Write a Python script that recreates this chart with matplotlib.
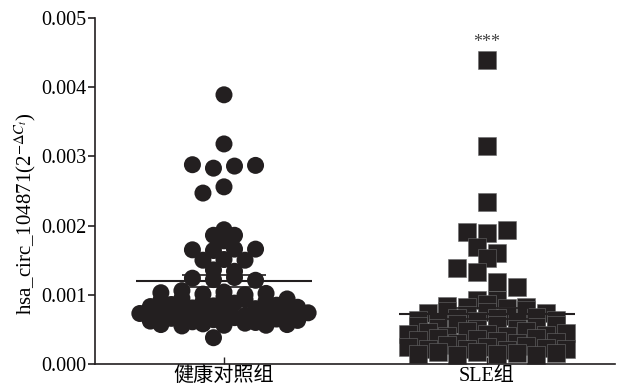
import matplotlib
matplotlib.use('Agg')
import matplotlib.pyplot as plt
from matplotlib.ticker import FormatStrFormatter
import numpy as np
import math

plt.rcParams['font.family'] = ['Liberation Serif', 'Noto Sans CJK SC']
plt.rcParams['mathtext.fontset'] = 'stix'

# Gruppen
gruppen = ['健康对照组', 'SLE组']

# hsa_circ_104871 Expression (2^-dCt), gesunde Kontrollen
gesund = [0.00389, 0.00318,
          0.00288, 0.00283, 0.00286, 0.00287,
          0.00256, 0.00247,
          0.00194, 0.00186, 0.00186, 0.00178,
          0.00165, 0.00164, 0.00166, 0.00166,
          0.00150, 0.00151, 0.00150,
          0.00136, 0.00134,
          0.00124, 0.00122, 0.00125, 0.00121,
          0.00103, 0.00106, 0.00101, 0.00104, 0.00100, 0.00102,
          0.00092, 0.00095, 0.00090, 0.00097, 0.00093, 0.00091, 0.00094,
          0.00083, 0.00086, 0.00081, 0.00084, 0.00088, 0.00080, 0.00085, 0.00082,
          0.00073, 0.00071, 0.00076, 0.00072, 0.00075, 0.00070, 0.00073, 0.00077, 0.00074,
          0.00062, 0.00066, 0.00061, 0.00064, 0.00067, 0.00060, 0.00065, 0.00063,
          0.00057, 0.00055, 0.00058, 0.00056, 0.00059, 0.00056, 0.00057,
          0.00038]

# SLE Patienten
sle = [0.00439, 0.00315, 0.00234,
       0.00191, 0.00190, 0.00193,
       0.00169, 0.00160, 0.00153,
       0.00139, 0.00133,
       0.00118, 0.00111,
       0.00092, 0.00093,
       0.00084, 0.00082, 0.00086, 0.00081, 0.00083,
       0.00073, 0.00077, 0.00071, 0.00075, 0.00070, 0.00078, 0.00074,
       0.00064, 0.00061, 0.00067, 0.00062, 0.00066, 0.00060, 0.00068, 0.00063,
       0.00055, 0.00052, 0.00058, 0.00051, 0.00056, 0.00050, 0.00054, 0.00057,
       0.00043, 0.00046, 0.00041, 0.00047, 0.00044, 0.00040, 0.00048, 0.00042, 0.00045,
       0.00034, 0.00037, 0.00031, 0.00036, 0.00033, 0.00030, 0.00038, 0.00032,
       0.00024, 0.00021, 0.00027, 0.00022, 0.00025, 0.00020, 0.00026, 0.00023, 0.00021,
       0.00015, 0.00017, 0.00013, 0.00018, 0.00014, 0.00016, 0.00013, 0.00016]

signifikanz = '***'


'''
Punkte einer Gruppe zeilenweise anordnen (Scatter wie bei GraphPad).
Werte im selben Intervall der Hoehe h liegen nebeneinander um die Mitte.
Kleine Zeilen werden seitlich verschoben, wenn sie sonst Punkte der
Zeilen darueber verdecken (Abstaende in Pixeln).

Eingabe:
    ax: Axes
    werte: List<float>
    mitte: float
    abstand: float
    h: float
    r: float

Ausgabe:
    x, y: np.array
'''
def anordnen(ax, werte, mitte, abstand=0.08, h=0.0001, r=15.0):

    zeilen = {}

    for v in werte:
        k = math.floor(v / h + 1e-9)
        zeilen[k] = zeilen.get(k, []) + [v]

    x = []
    y = []
    belegt = []

    for k in sorted(zeilen, reverse=True):

        n = len(zeilen[k])
        basis = [mitte + (i - (n - 1) / 2) * abstand for i in range(n)]
        gewaehlt = None

        for s in [0, -0.5, 0.5, -1, 1]:
            xs = [b + s * abstand for b in basis]
            pts = ax.transData.transform(np.column_stack([xs, zeilen[k]]))
            frei = all((px - bx) ** 2 + (py - by) ** 2 >= r ** 2
                       for px, py in pts for bx, by in belegt)
            if frei:
                gewaehlt = xs
                break

        if gewaehlt is None:
            gewaehlt = basis

        x += gewaehlt
        y += zeilen[k]
        belegt += [tuple(p) for p in ax.transData.transform(np.column_stack([gewaehlt, zeilen[k]]))]

    return np.array(x), np.array(y)


#---------------------------------------------------
# Hauptprogramm

farbe = '#231f20'

fig = plt.figure(figsize=(6.19, 3.92), dpi=100)
ax = fig.add_axes([0.1535, 0.0714, 0.84, 0.8827])

ax.set_xlim(0.5095, 2.487)
ax.set_ylim(0, 0.005)

gruppen_daten = [(gesund, 'o', 'none', 0.08), (sle, 's', '#6a6a6a', 0.075)]

for k, (daten, marker, rand, abstand) in enumerate(gruppen_daten):

    pos = k + 1
    x, y = anordnen(ax, daten, pos, abstand)
    ax.scatter(x, y, s=150, marker=marker, color=farbe, linewidths=0.4,
               edgecolors=rand, zorder=2)

    # Mittelwert und Standardfehler
    mittel = np.mean(daten)
    sem = np.std(daten, ddof=1) / np.sqrt(len(daten))
    ax.hlines(mittel, pos - 0.335, pos + 0.335, color=farbe, lw=1.5, zorder=3)
    ax.hlines([mittel - sem, mittel + sem], pos - 0.16, pos + 0.16,
              color=farbe, lw=1.2, zorder=3)

# Signifikanz
ax.annotate(signifikanz, xy=(2, max(sle)), xytext=(0, 13), textcoords='offset points',
            ha='center', va='center', fontsize=13, color='#444444')

ax.set_yticks(np.arange(0, 0.0051, 0.001))
ax.yaxis.set_major_formatter(FormatStrFormatter('%.3f'))
ax.set_xticks([1, 2])
ax.set_xticklabels(gruppen)

ax.spines['top'].set_visible(False)
ax.spines['right'].set_visible(False)
for s in ['left', 'bottom']:
    ax.spines[s].set_linewidth(1.2)
    ax.spines[s].set_color(farbe)

ax.tick_params(axis='y', direction='out', length=5, width=1.2, labelsize=14.5,
               color=farbe, pad=1)
ax.tick_params(axis='x', direction='in', length=5, width=1, labelsize=14.5,
               color=farbe, pad=2)

ax.set_ylabel(r'hsa_circ_104871(2$^{-\Delta C_t}$)', fontsize=15)
ax.yaxis.set_label_coords(-0.11, 0.436)

plt.savefig('out.png')
